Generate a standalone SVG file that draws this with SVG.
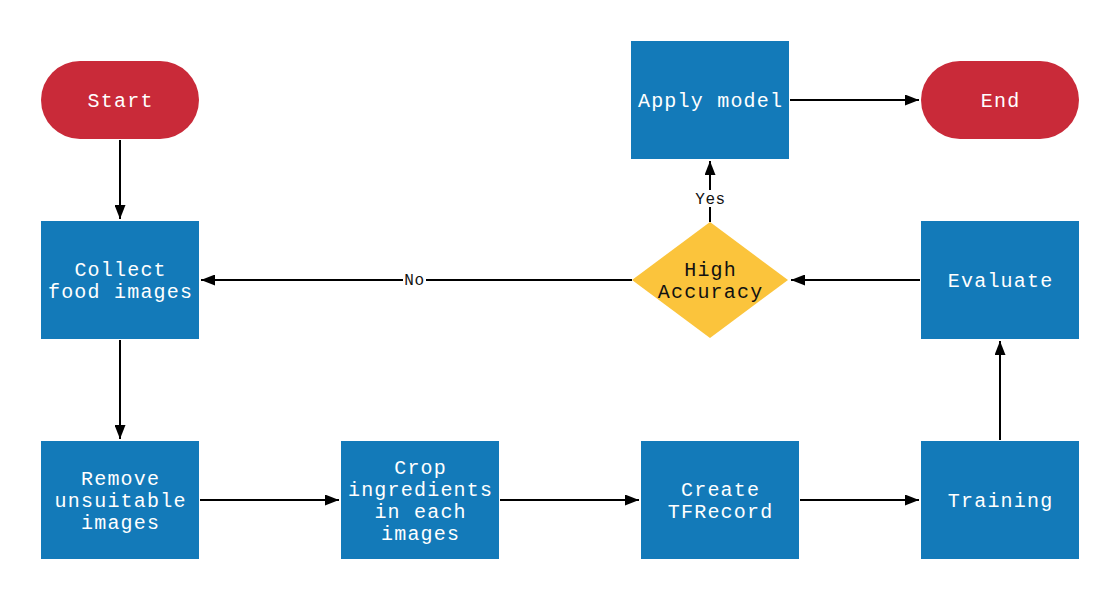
<svg xmlns="http://www.w3.org/2000/svg" width="1120" height="600" viewBox="0 0 1120 600">
<style>
.box{fill:#137ab9;}
.term{fill:#c92a39;}
.dec{fill:#fbc43c;}
.t{font-family:"Liberation Mono","DejaVu Sans Mono",monospace;font-size:20px;letter-spacing:1.2px;fill:#ffffff;text-anchor:middle;}
.td{font-family:"Liberation Mono","DejaVu Sans Mono",monospace;font-size:20px;letter-spacing:1.2px;fill:#111111;text-anchor:middle;}
.lbl{font-family:"Liberation Mono","DejaVu Sans Mono",monospace;font-size:16px;letter-spacing:0.6px;fill:#111111;text-anchor:middle;}
.c{stroke:#000000;stroke-width:2;fill:none;marker-end:url(#arr);}
.lb{fill:#ffffff;}
</style>
<defs>
<marker id="arr" viewBox="0 0 14 11" refX="14" refY="5.5" markerWidth="14" markerHeight="11" markerUnits="userSpaceOnUse" orient="auto">
<path d="M0,0 L14,5.5 L0,11 z" fill="#000000"/>
</marker>
</defs>
<rect width="1120" height="600" fill="#ffffff"/>
<g id="connectors">
<line class="c" x1="120" y1="140" x2="120" y2="219"/>
<line class="c" x1="120" y1="340" x2="120" y2="439"/>
<line class="c" x1="200" y1="500" x2="339" y2="500"/>
<line class="c" x1="500" y1="500" x2="639" y2="500"/>
<line class="c" x1="800" y1="500" x2="919" y2="500"/>
<line class="c" x1="1000" y1="440" x2="1000" y2="341"/>
<line class="c" x1="920" y1="280" x2="791" y2="280"/>
<line class="c" x1="632" y1="280" x2="201" y2="280"/>
<line class="c" x1="710" y1="222" x2="710" y2="161"/>
<line class="c" x1="790" y1="100" x2="919" y2="100"/>
<rect class="lb" x="403" y="271" width="23" height="18"/>
<text class="lbl" x="414.5" y="285">No</text>
<rect class="lb" x="691" y="190" width="38" height="17"/>
<text class="lbl" x="710.5" y="204">Yes</text>
</g>
<g id="start">
<rect class="term" x="41" y="61" width="158" height="78" rx="39" ry="39"/>
<text class="t" x="120.6" y="107">Start</text>
</g>
<g id="collect">
<rect class="box" x="41" y="221" width="158" height="118"/>
<text class="t" x="120.6" y="276">Collect</text>
<text class="t" x="120.6" y="298">food images</text>
</g>
<g id="remove">
<rect class="box" x="41" y="441" width="158" height="118"/>
<text class="t" x="120.6" y="485">Remove</text>
<text class="t" x="120.6" y="507">unsuitable</text>
<text class="t" x="120.6" y="529">images</text>
</g>
<g id="crop">
<rect class="box" x="341" y="441" width="158" height="118"/>
<text class="t" x="420.6" y="474">Crop</text>
<text class="t" x="420.6" y="496">ingredients</text>
<text class="t" x="420.6" y="518">in each</text>
<text class="t" x="420.6" y="540">images</text>
</g>
<g id="create">
<rect class="box" x="641" y="441" width="158" height="118"/>
<text class="t" x="720.6" y="496">Create</text>
<text class="t" x="720.6" y="518">TFRecord</text>
</g>
<g id="training">
<rect class="box" x="921" y="441" width="158" height="118"/>
<text class="t" x="1000.6" y="507">Training</text>
</g>
<g id="evaluate">
<rect class="box" x="921" y="221" width="158" height="118"/>
<text class="t" x="1000.6" y="287">Evaluate</text>
</g>
<g id="decision">
<polygon class="dec" points="710,222 788,280 710,338 632,280"/>
<text class="td" x="710.6" y="276">High</text>
<text class="td" x="710.6" y="298">Accuracy</text>
</g>
<g id="apply">
<rect class="box" x="631" y="41" width="158" height="118"/>
<text class="t" x="710.6" y="107">Apply model</text>
</g>
<g id="end">
<rect class="term" x="921" y="61" width="158" height="78" rx="39" ry="39"/>
<text class="t" x="1000.6" y="107">End</text>
</g>
</svg>
